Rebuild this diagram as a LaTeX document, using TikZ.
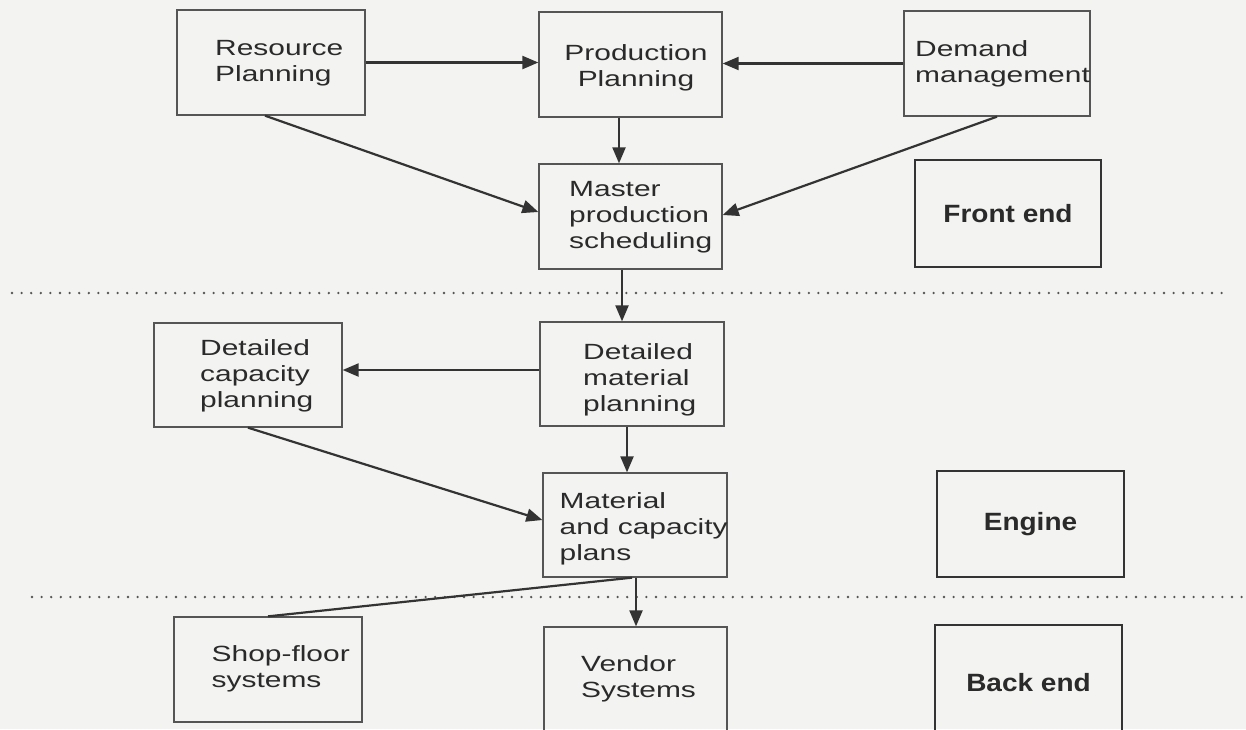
\documentclass[tikz,border=0pt]{standalone}
\usepackage{fontspec}
\setmainfont{Liberation Sans}[FakeStretch=1.36]
\newfontfamily\taglabfont{Liberation Sans}[FakeStretch=1.12]
\usetikzlibrary{arrows.meta}
\definecolor{bgc}{HTML}{F3F3F1}
\definecolor{boxc}{HTML}{555555}
\definecolor{linec}{HTML}{333333}
\definecolor{txtc}{HTML}{2A2A2A}
\definecolor{dotc}{HTML}{555555}
\begin{document}
\begin{tikzpicture}[x=1pt,y=-1pt,
  box/.style={draw=boxc, line width=1.3pt, inner sep=0pt},
  lab/.style={font=\fontsize{22}{26}\selectfont, text=txtc, align=left, inner sep=0pt, anchor=base west},
  tagbox/.style={draw=linec, line width=2.6pt, inner sep=0pt, text=txtc,
    font=\taglabfont\bfseries\fontsize{25}{30}\selectfont},
  arr/.style={draw=linec, line width=2.2pt, -{Triangle[length=16pt,width=13pt]}},
  plainline/.style={draw=linec, line width=2.2pt},
  dots/.style={draw=dotc, line width=2.6pt, line cap=round, dash pattern=on 0pt off 9.6pt}]
\fill[bgc] (0,0) rectangle (1246,729);
\useasboundingbox (0,0) rectangle (1246,729);
\clip (0,0) rectangle (1246,729);

% boxes
\node[box, minimum width=188pt, minimum height=105pt] (rp)  at (271,62.5) {};
\node[box, minimum width=183pt, minimum height=105pt] (pp)  at (630.5,64.5) {};
\node[box, minimum width=186pt, minimum height=105pt] (dm)  at (997,63.5) {};
\node[box, minimum width=183pt, minimum height=105pt] (mps) at (630.5,216.5) {};
\node[box, minimum width=188pt, minimum height=104pt] (dcp) at (248,375) {};
\node[box, minimum width=184pt, minimum height=104pt] (dmp) at (632,374) {};
\node[box, minimum width=184pt, minimum height=104pt] (mcp) at (635,525) {};
\node[box, minimum width=188pt, minimum height=105pt] (sf)  at (268,669.5) {};
\node[box, minimum width=183pt, minimum height=113pt] (vs)  at (635.5,683.5) {};

% texts (anchor = baseline of the last line)
\node[lab] (rpT)  at (215,81)  {Resource\\Planning};
\node[lab, align=center, anchor=base] (ppT) at (636,86) {Production\\Planning};
\node[lab] (dmT)  at (915,82)  {Demand\\management};
\node[lab] (mpsT) at (569,248) {Master\\production\\scheduling};
\node[lab] (dcpT) at (200,407) {Detailed\\capacity\\planning};
\node[lab] (dmpT) at (583,411) {Detailed\\material\\planning};
\node[lab] (mcpT) at (559.5,560) {Material\\and capacity\\plans};
\node[lab] (sfT)  at (211.5,687) {Shop-floor\\systems};
\node[lab] (vsT)  at (581,697) {Vendor\\Systems};

% tag boxes
\node[tagbox, minimum width=186pt, minimum height=107pt] (fe) at (1008,213.5) {Front end};
\node[tagbox, minimum width=187pt, minimum height=106pt] (en) at (1030.5,524) {Engine};
\node[tagbox, minimum width=187pt, minimum height=115pt] (be) at (1028.5,682.5) {Back end};

% dotted separators
\draw[dots] (12,293) -- (1229,293);
\draw[dots] (32,597) -- (1246,597);

% connectors
\draw[arr] (rp.east) -- (rp.east -| pp.west);
\draw[arr] (dm.west) -- (dm.west -| pp.east);
\draw[arr] (pp.south -| 619,0) -- (mps.north -| 619,0);
\draw[arr] ([xshift=-6pt]rp.south) -- (mps.west |- 0,212);
\draw[arr] (dm.south) -- (mps.east |- 0,215);
\draw[arr] (mps.south -| 622,0) -- (dmp.north -| 622,0);
\draw[arr] (dmp.west |- 0,370) -- (dcp.east |- 0,370);
\draw[arr] (dmp.south -| 627,0) -- (mcp.north -| 627,0);
\draw[arr] (dcp.south) -- (mcp.west |- 0,520);
\draw[arr] (mcp.south -| 636,0) -- (vs.north -| 636,0);
\draw[plainline] (mcp.south -| 632,0) -- (sf.north);
\end{tikzpicture}
\end{document}
